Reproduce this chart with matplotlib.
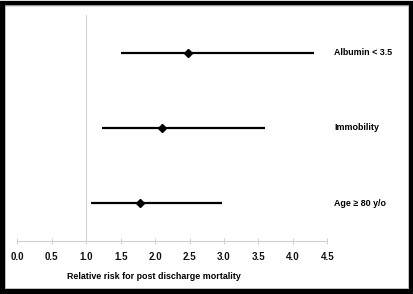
import matplotlib
matplotlib.use("Agg")
import matplotlib.pyplot as plt
from matplotlib.patches import Rectangle
from matplotlib import font_manager as fm

labels = ["Age \u2265 80 y/o", "Immobility", "Albumin < 3.5"]
rr = [1.78, 2.10, 2.48]
lower = [1.065, 1.23, 1.50]
upper = [2.97, 3.59, 4.30]
ticks = [0.0, 0.5, 1.0, 1.5, 2.0, 2.5, 3.0, 3.5, 4.0, 4.5]
xlabel = "Relative risk for post discharge mortality"

FS = 6.4
bold_path = None
for f in fm.findSystemFonts():
    if f.endswith("LiberationSans-Bold.ttf"):
        bold_path = f
        break
if bold_path:
    fp = fm.FontProperties(fname=bold_path, size=FS)
    fp_tick = fm.FontProperties(fname=bold_path, size=7)
else:
    fp = fm.FontProperties(family='DejaVu Sans', weight='bold', size=FS)
    fp_tick = fm.FontProperties(family='DejaVu Sans', weight='bold', size=7)
fp_sym = fm.FontProperties(family=['Liberation Sans', 'DejaVu Sans'], weight='bold', size=FS)

fig = plt.figure(figsize=(4.14, 2.94), dpi=100)
W, H = 414, 294
ax = fig.add_axes([17.3 / W, (H - 241) / H, 310 / W, 226 / H])

ypos = [1, 2, 3]
for y, lo, hi, m in zip(ypos, lower, upper, rr):
    ax.plot([lo, hi], [y, y], color='black', lw=1.6, solid_capstyle='butt')
    ax.plot([m], [y], marker='D', color='black', ms=4.5)
    lab = labels[y - 1]
    ax.text(4.60, y, lab, fontproperties=(fp_sym if '\u2265' in lab else fp),
            va='center', ha='left')

ax.axvline(1.0, color='#d4d4d4', lw=0.8)

ax.set_xlim(0, 4.5)
ax.set_ylim(0.5, 3.5)
ax.set_xticks(ticks)
ax.set_xticklabels([f"{t:.1f}" for t in ticks])
for t in ax.get_xticklabels():
    t.set_fontproperties(fp_tick)
    t.set_color('#111111')
ax.tick_params(axis='x', direction='inout', length=4, width=0.6, color='#c8c8c8', pad=6)
ax.set_yticks([])
for s in ['top', 'right', 'left']:
    ax.spines[s].set_visible(False)
ax.spines['bottom'].set_color('#d0d0d0')
ax.spines['bottom'].set_linewidth(0.8)
ax.set_xlabel(xlabel, fontproperties=fp)
ax.xaxis.set_label_coords(137 / 310, -0.135)

fig.patches.append(Rectangle((2.5 / W, 3.5 / H), (W - 5.5) / W, (H - 6.5) / H,
                             transform=fig.transFigure, fill=False,
                             edgecolor='black', lw=3.8))
fig.patches.append(Rectangle((4.8 / W, 6.2 / H), (W - 10.3) / W, (H - 10.8) / H,
                             transform=fig.transFigure, fill=False,
                             edgecolor='#bbbbbb', lw=0.6))

fig.savefig("out.png", dpi=100)
